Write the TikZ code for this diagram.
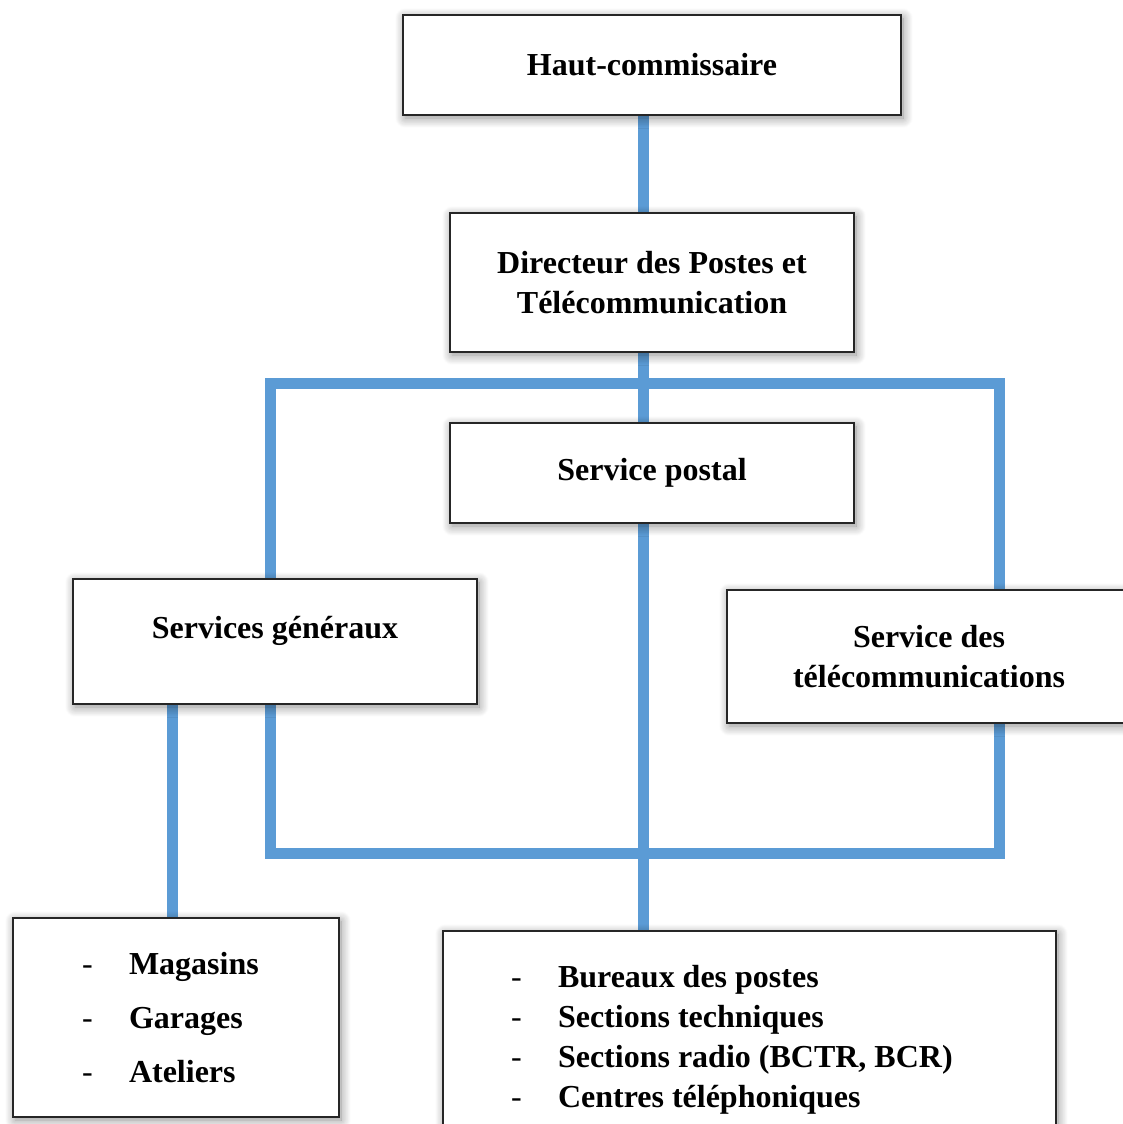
\documentclass[tikz,border=0pt]{standalone}
\usepackage{fontspec}
\setmainfont{Liberation Serif}
\usetikzlibrary{shadows.blur,backgrounds,calc}
\definecolor{bleuligne}{RGB}{91,155,213}
\newcommand{\tiret}{\makebox[47pt][l]{\mdseries -}}
\tikzset{
  orgbox/.style={draw=black!85, line width=1.1pt, fill=white, align=center,
    font=\fontsize{32}{40}\selectfont\bfseries,
    blur shadow={shadow xshift=2pt, shadow yshift=-3pt, shadow blur radius=10pt,
      shadow blur steps=12, shadow opacity=45}},
  liaison/.style={draw=bleuligne, line width=11pt}
}
\begin{document}
\begin{tikzpicture}[x=1pt,y=-1pt]
  \useasboundingbox (0,0) rectangle (1122,1124);
  \node[orgbox, minimum width=498pt, minimum height=100pt] (haut) at (652,65) {Haut-commissaire};
  \node[orgbox, minimum width=404pt, minimum height=139pt] (dir) at (652,282.5)
    {Directeur des Postes et\\T\'el\'ecommunication};
  \node[orgbox, minimum width=404pt, minimum height=100pt] (postal) at (652,473) {Service postal};
  \node[orgbox, minimum width=404pt, minimum height=125pt, text depth=29pt] (gen) at (275,641.5)
    {Services g\'en\'eraux};
  \node[orgbox, minimum width=404pt, minimum height=133pt] (tel) at (929,656.5)
    {Service des\\t\'el\'ecommunications};
  \node[orgbox, align=left, inner xsep=69pt, text width=188pt, minimum height=199pt] (botL) at (176,1017.5)
    {\tiret Magasins\\[14pt]\tiret Garages\\[14pt]\tiret Ateliers};
  \node[orgbox, align=left, inner xsep=68pt, text width=477pt, minimum height=210pt] (botR) at (749.5,1036)
    {\spaceskip=8pt\relax\rule{0pt}{30pt}\tiret Bureaux des postes\\\tiret Sections techniques\\\tiret Sections radio (BCTR, BCR)\\\tiret Centres t\'el\'ephoniques};
  % liaisons
  \coordinate (spine) at (643,383);
  \coordinate (legL) at (172,0);
  \coordinate (ringTL) at (270,383);
  \coordinate (ringBR) at (999,853);
  \begin{scope}[on background layer]
    \draw[liaison] (haut.south -| spine) -- (botR.north -| spine);
    \draw[liaison] (ringTL) rectangle (ringBR);
    \draw[liaison] (gen.south -| legL) -- (botL.north -| legL);
  \end{scope}
\end{tikzpicture}
\end{document}
